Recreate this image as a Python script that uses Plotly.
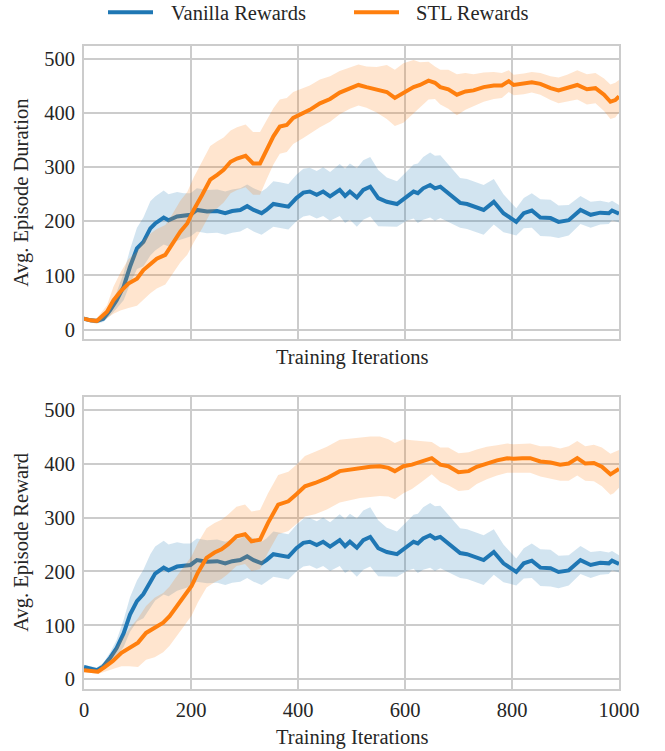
import plotly.graph_objects as go

# ---------------- data ----------------
van_x = [0, 12, 24, 36, 49, 61, 74, 86, 99, 111, 124, 133, 149, 158, 174, 186, 199, 211, 230, 249,
         264, 277, 292, 305, 317, 332, 341, 354, 366, 382, 397, 410, 422, 435, 447, 460, 478, 488,
         497, 510, 522, 535, 550, 566, 585, 603, 616, 624, 634, 647, 656, 666, 684, 703, 716, 728,
         747, 766, 784, 808, 822, 837, 853, 872, 887, 906, 928, 947, 965, 981, 987, 1000]
van_dur = [20, 17, 16, 20, 36, 54, 79, 116, 150, 162, 187, 196, 207, 202, 209, 210, 212, 221, 218, 219,
           215, 219, 221, 228, 221, 215, 221, 232, 230, 227, 243, 253, 255, 249, 255, 246, 258, 247,
           255, 244, 258, 264, 243, 236, 232, 246, 255, 252, 261, 267, 261, 264, 249, 234, 232, 228,
           221, 236, 215, 199, 215, 220, 207, 206, 199, 202, 221, 212, 216, 215, 220, 214]
van_rew = [23, 20, 17, 24, 40, 58, 85, 120, 145, 158, 182, 196, 207, 202, 209, 210, 212, 221, 218, 219,
           215, 219, 221, 228, 221, 215, 221, 232, 230, 227, 243, 253, 255, 249, 255, 246, 258, 247,
           255, 244, 258, 264, 243, 236, 232, 246, 255, 252, 261, 267, 261, 264, 249, 234, 232, 228,
           221, 236, 215, 199, 215, 220, 207, 206, 199, 202, 221, 212, 216, 215, 220, 214]
van_std = [4, 4, 5, 6, 10, 15, 25, 32, 38, 45, 50, 50, 50, 48, 45, 42, 40, 40, 40, 40,
           40, 40, 40, 40, 40, 40, 40, 42, 42, 42, 43, 44, 44, 44, 45, 45, 48, 50,
           52, 54, 55, 55, 52, 45, 42, 45, 50, 55, 58, 60, 60, 58, 52, 46, 46, 46,
           46, 42, 35, 25, 28, 32, 34, 34, 30, 28, 26, 24, 22, 20, 18, 16]

stl_dur_x = [0, 12, 24, 43, 55, 68, 83, 99, 111, 124, 136, 152, 164, 180, 193, 205, 221, 236, 249, 261,
             274, 286, 302, 316, 329, 341, 354, 366, 379, 391, 410, 422, 441, 460, 478, 497, 513, 528,
             547, 566, 581, 597, 616, 628, 644, 656, 666, 681, 697, 713, 728, 747, 766, 781, 794, 803,
             822, 837, 853, 872, 887, 903, 922, 940, 956, 972, 984, 993, 1000]
stl_dur = [20, 17, 16, 33, 54, 70, 85, 94, 110, 122, 131, 138, 156, 181, 196, 221, 249, 277, 286, 295,
           310, 316, 321, 307, 307, 332, 357, 375, 378, 391, 400, 406, 418, 426, 438, 446, 452, 448,
           443, 439, 428, 437, 448, 452, 460, 456, 448, 444, 434, 440, 442, 448, 451, 451, 459, 452,
           454, 457, 454, 446, 442, 446, 452, 444, 446, 434, 421, 424, 431]
stl_dur_std = [3, 4, 5, 12, 25, 35, 45, 50, 55, 55, 55, 55, 55, 57, 58, 60, 62, 62, 62, 60,
               58, 58, 58, 58, 58, 55, 52, 50, 50, 48, 46, 45, 44, 42, 40, 38, 38, 38,
               42, 50, 52, 55, 50, 42, 35, 30, 32, 36, 38, 34, 30, 27, 25, 23, 20, 19,
               19, 19, 20, 22, 24, 25, 27, 28, 28, 30, 32, 32, 30]

stl_rew_x = [0, 12, 26, 38, 54, 70, 85, 101, 116, 132, 148, 160, 169, 185, 201, 213, 229, 244, 257, 269,
             285, 301, 313, 329, 344, 363, 382, 397, 413, 432, 454, 478, 497, 516, 535, 553, 569, 581,
             597, 613, 631, 650, 666, 681, 700, 719, 734, 753, 772, 791, 803, 819, 834, 853, 872, 890,
             906, 922, 937, 953, 968, 984, 990, 1000]
stl_rew = [17, 15, 14, 22, 34, 49, 59, 68, 86, 96, 105, 117, 130, 151, 173, 198, 225, 235, 241, 250,
           265, 269, 256, 259, 290, 324, 330, 343, 358, 364, 373, 386, 389, 392, 394, 395, 392, 386,
           395, 398, 404, 410, 398, 395, 384, 386, 394, 401, 406, 410, 409, 410, 410, 404, 402, 398,
           400, 410, 400, 401, 394, 380, 383, 390]
stl_rew_std = [3, 3, 4, 8, 15, 25, 35, 45, 50, 55, 55, 55, 55, 55, 55, 55, 55, 55, 55, 55,
               55, 55, 55, 55, 55, 55, 55, 55, 56, 58, 58, 58, 57, 56, 56, 55, 53, 52,
               50, 45, 38, 30, 32, 35, 35, 35, 32, 30, 28, 27, 27, 27, 27, 28, 30, 30,
               32, 32, 32, 34, 36, 38, 38, 35]

x_ticks = [0, 200, 400, 600, 800, 1000]
y_ticks = [0, 100, 200, 300, 400, 500]
series_names = ["Vanilla Rewards", "STL Rewards"]

BLUE = "#1f77b4"
ORANGE = "#ff7f0e"
BLUE_FILL = "rgba(31,119,180,0.2)"
ORANGE_FILL = "rgba(255,127,14,0.2)"
FONT = "Liberation Serif"
TXT = "#262626"
FS = 20.5

W, H = 665, 751
ML, MR, MT, MB = 84, 46, 46, 62
PW, PH = W - ML - MR, H - MT - MB

fig = go.Figure()


def add_series(xs, ys, sd, color, fill, name, xa, ya):
    lo = [y - s for y, s in zip(ys, sd)]
    hi = [y + s for y, s in zip(ys, sd)]
    fig.add_trace(go.Scatter(x=list(xs) + list(xs)[::-1], y=hi + lo[::-1], fill="toself",
                             fillcolor=fill, line=dict(width=0), mode="lines",
                             hoverinfo="skip", showlegend=False, xaxis=xa, yaxis=ya))
    fig.add_trace(go.Scatter(x=xs, y=ys, mode="lines", line=dict(color=color, width=4),
                             name=name, showlegend=False, xaxis=xa, yaxis=ya))


add_series(van_x, van_dur, van_std, BLUE, BLUE_FILL, series_names[0], "x", "y")
add_series(stl_dur_x, stl_dur, stl_dur_std, ORANGE, ORANGE_FILL, series_names[1], "x", "y")
add_series(van_x, van_rew, van_std, BLUE, BLUE_FILL, series_names[0], "x2", "y2")
add_series(stl_rew_x, stl_rew, stl_rew_std, ORANGE, ORANGE_FILL, series_names[1], "x2", "y2")

axis_common = dict(showline=True, mirror=True, linecolor="#cccccc", linewidth=2,
                   showgrid=True, gridcolor="#cccccc", gridwidth=1.5, zeroline=False,
                   ticks="", tickfont=dict(family=FONT, size=FS, color=TXT))

TOP_DOM = [0.5439, 1]
BOT_DOM = [0, 0.4546]

fig.update_layout(
    width=W, height=H,
    margin=dict(l=ML, r=MR, t=MT, b=MB, autoexpand=False),
    paper_bgcolor="white", plot_bgcolor="white",
    font=dict(family=FONT, size=FS, color=TXT),
    showlegend=False,
    xaxis=dict(domain=[0, 1], range=[0, 1000], tickvals=x_ticks, showticklabels=False,
               anchor="y", **axis_common),
    yaxis=dict(domain=TOP_DOM, range=[-18, 524], tickvals=y_ticks, anchor="x",
               ticklabelstandoff=3, **axis_common),
    xaxis2=dict(domain=[0, 1], range=[0, 1000], tickvals=x_ticks, anchor="y2",
                ticklabelstandoff=1, **axis_common),
    yaxis2=dict(domain=BOT_DOM, range=[-18, 524], tickvals=y_ticks, anchor="x2",
                ticklabelstandoff=3, **axis_common),
)


def px_x(v):  # window px -> paper x
    return (v - ML) / PW


def px_y(v):  # window px -> paper y
    return 1 + (MT - v) / PH


ann = dict(showarrow=False, font=dict(family=FONT, size=FS, color=TXT))

# legend (drawn in the top margin)
for name, color, x0, x1, xt in [(series_names[0], BLUE, 108, 153, 169),
                                 (series_names[1], ORANGE, 354, 399, 414)]:
    fig.add_shape(type="line", xref="paper", yref="paper", x0=px_x(x0), x1=px_x(x1),
                  y0=px_y(12.3), y1=px_y(12.3), line=dict(color=color, width=4))
    fig.add_annotation(text=name, xref="paper", yref="paper", x=px_x(xt), y=px_y(13),
                       xanchor="left", yanchor="middle", **ann)

fig.add_annotation(text="Training Iterations", xref="paper", yref="paper", x=0.5, y=TOP_DOM[0],
                   xanchor="center", yanchor="top", yshift=-5, **ann)
fig.add_annotation(text="Training Iterations", xref="paper", yref="paper", x=0.5, y=0,
                   xanchor="center", yanchor="top", yshift=-35, **ann)
fig.add_annotation(text="Avg. Episode Duration", xref="paper", yref="paper", x=0,
                   y=(TOP_DOM[0] + TOP_DOM[1]) / 2,
                   xanchor="center", yanchor="middle", xshift=-62, textangle=-90, **ann)
fig.add_annotation(text="Avg. Episode Reward", xref="paper", yref="paper", x=0,
                   y=(BOT_DOM[0] + BOT_DOM[1]) / 2,
                   xanchor="center", yanchor="middle", xshift=-62, textangle=-90, **ann)

fig.write_html("out.html", config={"displayModeBar": False},
               post_script="document.body.style.margin='0';document.body.style.overflow='hidden';")
